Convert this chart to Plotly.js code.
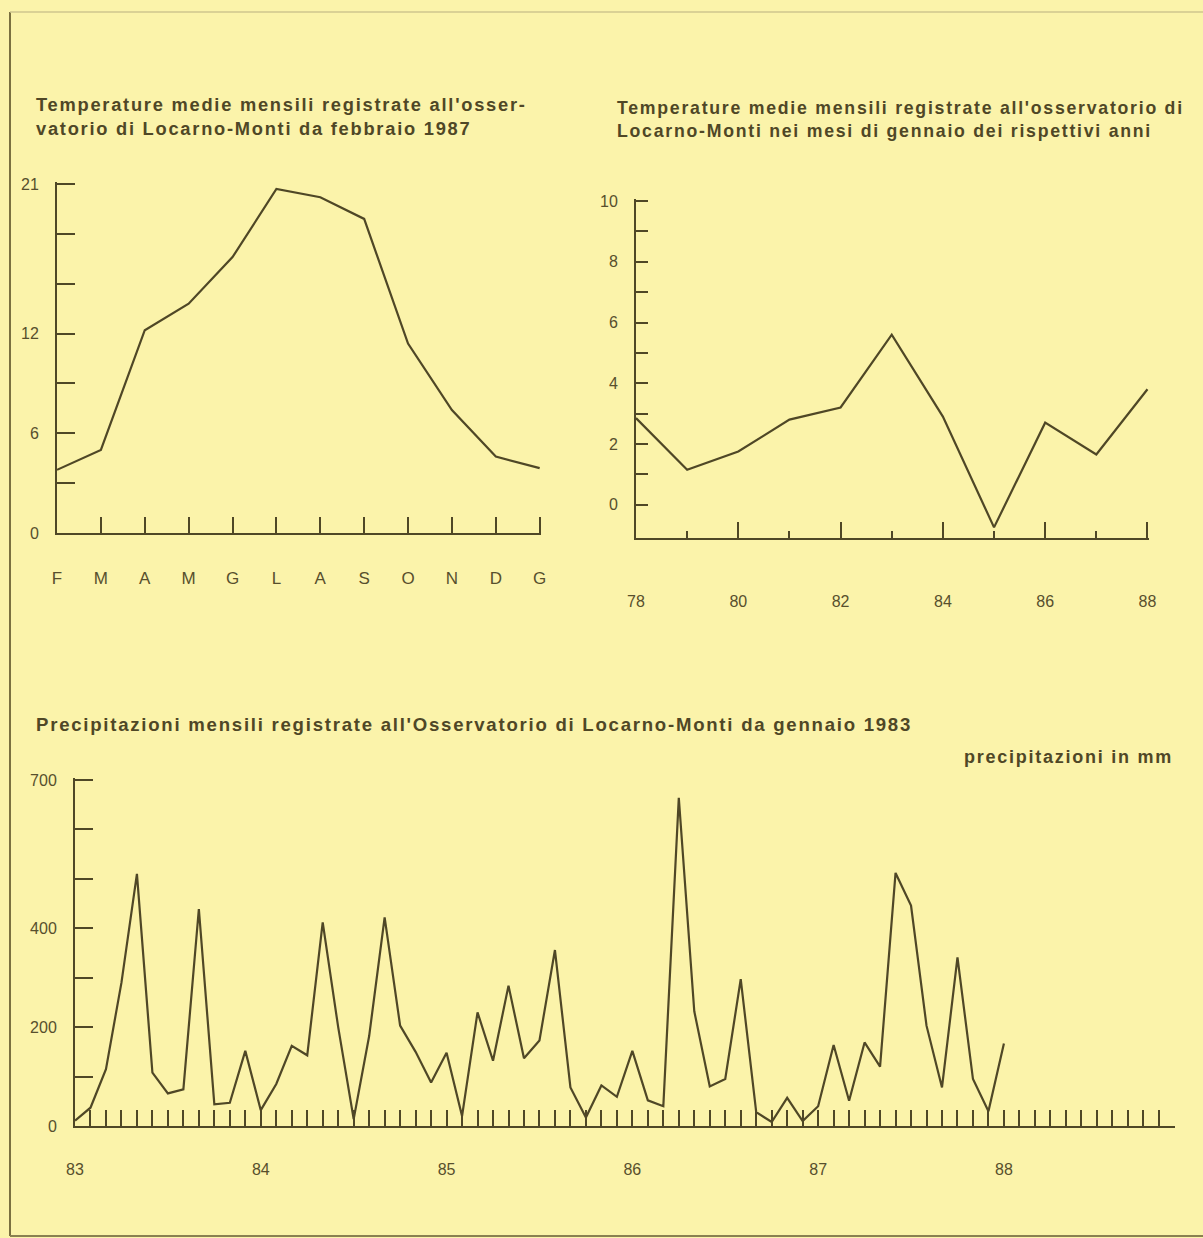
<!DOCTYPE html>
<html>
<head>
<meta charset="utf-8">
<script src="https://cdn.plot.ly/plotly-3.0.1.min.js"></script>
<style>
  html, body { margin: 0; padding: 0; background: #fbf3aa; }
  #chart { width: 1203px; height: 1238px; }
  .annotation-text { letter-spacing: 1.75px; }
</style>
</head>
<body>
<div id="chart"></div>
<script>
// ---- Data ----
// Chart 1: monthly mean temperatures from February 1987
const monthLabels = ['F', 'M', 'A', 'M', 'G', 'L', 'A', 'S', 'O', 'N', 'D', 'G'];
const monthlyTemps = [3.8, 5.0, 12.2, 13.8, 16.6, 20.7, 20.2, 18.9, 11.4, 7.4, 4.6, 3.9];
const tempTickVals = [0, 3, 6, 9, 12, 15, 18, 21];
const tempTickText = ['0', '', '6', '', '12', '', '', '21'];

// Chart 2: January mean temperatures, 1978-1988
const janYears = [78, 79, 80, 81, 82, 83, 84, 85, 86, 87, 88];
const janTemps = [2.85, 1.15, 1.75, 2.8, 3.2, 5.6, 2.9, -0.75, 2.7, 1.65, 3.8];
const janYearLabels = ['78', '80', '82', '84', '86', '88'];
const janYTickText = ['0', '', '2', '', '4', '', '6', '', '8', '', '10'];

// Chart 3: monthly precipitation (mm) from January 1983 to January 1988
const precipYearLabels = ['83', '84', '85', '86', '87', '88'];
const precip1983 = [11, 37, 115, 290, 510, 108, 66, 74, 439, 44, 47, 152];
const precip1984 = [32, 85, 162, 143, 412, 200, 14, 182, 422, 203, 150, 88];
const precip1985 = [148, 20, 230, 132, 284, 137, 173, 356, 78, 17, 82, 59];
const precip1986 = [152, 52, 40, 664, 232, 80, 95, 297, 28, 8, 57, 10];
const precip1987 = [40, 164, 51, 169, 120, 512, 446, 203, 78, 341, 95, 30];
const precip1988 = [167];
const precipTickText = ['0', '', '200', '', '400', '', '', '700'];

// ---- Build ----
const ink = '#4f4726';
const labelInk = '#574f2d';
const W = 1203, H = 1238;
const px = v => v / W;
const py = v => 1 - v / H;

const precip = [].concat(precip1983, precip1984, precip1985, precip1986, precip1987, precip1988);
const precipMonths = precip.map((_, i) => i);
const monthTickVals = [];
const monthTickText = [];
for (let m = 0; m <= 71; m++) {
  monthTickVals.push(m);
  monthTickText.push(m % 12 === 0 ? precipYearLabels[m / 12] : '');
}
const precipYTicks = [0, 100, 200, 300, 400, 500, 600, 700];

const lineStyle = { color: ink, width: 2.2 };

const traces = [
  { x: monthLabels.map((_, i) => i), y: monthlyTemps, xaxis: 'x', yaxis: 'y',
    type: 'scatter', mode: 'lines', line: lineStyle, hoverinfo: 'skip' },
  { x: janYears, y: janTemps, xaxis: 'x2', yaxis: 'y2',
    type: 'scatter', mode: 'lines', line: lineStyle, hoverinfo: 'skip' },
  { x: precipMonths, y: precip, xaxis: 'x3', yaxis: 'y3',
    type: 'scatter', mode: 'lines', line: lineStyle, hoverinfo: 'skip' }
];

const fontFam = '"Liberation Sans", Arial, Helvetica, sans-serif';
const tickFont = { family: fontFam, size: 16, color: labelInk };
const baseAxis = {
  showline: true, linecolor: ink, linewidth: 2,
  ticks: 'inside', tickcolor: ink, tickwidth: 2,
  showgrid: false, zeroline: false, fixedrange: true,
  tickfont: tickFont
};

const layout = {
  width: W, height: H,
  margin: { l: 0, r: 0, t: 0, b: 0 },
  paper_bgcolor: '#fbf3aa',
  plot_bgcolor: 'rgba(0,0,0,0)',
  showlegend: false,
  font: { family: fontFam, color: ink },
  xaxis: Object.assign({}, baseAxis, {
    domain: [px(57), px(541)], range: [0, 11.03], anchor: 'y',
    tickmode: 'array', tickvals: monthLabels.map((_, i) => i), ticktext: monthLabels,
    ticklen: 16, ticklabelstandoff: 29, tickfont: { family: fontFam, size: 17, color: labelInk }
  }),
  yaxis: Object.assign({}, baseAxis, {
    domain: [py(533), py(182)], range: [0, 21.12], anchor: 'x',
    tickmode: 'array', tickvals: tempTickVals, ticktext: tempTickText,
    ticklen: 18, ticklabelstandoff: 13
  }),
  xaxis2: Object.assign({}, baseAxis, {
    domain: [px(636), px(1149)], range: [78, 88.03], anchor: 'y2',
    tickmode: 'array', tickvals: [78, 80, 82, 84, 86, 88], ticktext: janYearLabels,
    ticklen: 16, ticklabelstandoff: 48,
    minor: { tickmode: 'linear', tick0: 78, dtick: 1, ticks: 'inside', ticklen: 7, tickwidth: 2, tickcolor: ink, showgrid: false }
  }),
  yaxis2: Object.assign({}, baseAxis, {
    domain: [py(538), py(199)], range: [-1.1, 10.07], anchor: 'x2',
    tickmode: 'array', tickvals: [0, 1, 2, 3, 4, 5, 6, 7, 8, 9, 10], ticktext: janYTickText,
    ticklen: 12, ticklabelstandoff: 13
  }),
  xaxis3: Object.assign({}, baseAxis, {
    domain: [px(75), px(1175)], range: [0, 71.05], anchor: 'y3',
    tickmode: 'array', tickvals: monthTickVals, ticktext: monthTickText,
    ticklen: 16, ticklabelstandoff: 28
  }),
  yaxis3: Object.assign({}, baseAxis, {
    domain: [py(1126), py(778)], range: [0, 704], anchor: 'x3',
    tickmode: 'array', tickvals: precipYTicks, ticktext: precipTickText,
    ticklen: 18, ticklabelstandoff: 13
  }),
  yaxis4: Object.assign({}, baseAxis, {
    domain: [py(1126), py(778)], range: [0, 704], anchor: 'x3', overlaying: 'y3', side: 'right',
    tickmode: 'array', tickvals: precipYTicks, showticklabels: false, ticklen: 18
  }),
  annotations: [
    { xref: 'paper', yref: 'paper', x: px(34), y: py(117), xanchor: 'left', yanchor: 'middle', align: 'left',
      showarrow: false, font: { family: fontFam, size: 18.3, weight: 700, color: ink },
      text: "Temperature medie mensili registrate all'osser-<br>vatorio di Locarno-Monti da febbraio 1987" },
    { xref: 'paper', yref: 'paper', x: px(615), y: py(119), xanchor: 'left', yanchor: 'middle', align: 'left',
      showarrow: false, font: { family: fontFam, size: 17.7, weight: 700, color: ink },
      text: "Temperature medie mensili registrate all'osservatorio di<br>Locarno-Monti nei mesi di gennaio dei rispettivi anni" },
    { xref: 'paper', yref: 'paper', x: px(34), y: py(724), xanchor: 'left', yanchor: 'middle', align: 'left',
      showarrow: false, font: { family: fontFam, size: 18.6, weight: 700, color: ink },
      text: "Precipitazioni mensili registrate all'Osservatorio di Locarno-Monti da gennaio 1983" },
    { xref: 'paper', yref: 'paper', x: px(962), y: py(757), xanchor: 'left', yanchor: 'middle', align: 'left',
      showarrow: false, font: { family: fontFam, size: 18, weight: 700, color: ink },
      text: 'precipitazioni in mm' }
  ],
  shapes: [
    { type: 'line', xref: 'paper', yref: 'paper', x0: px(10), x1: px(10), y0: py(12), y1: py(1236),
      line: { color: '#7a7040', width: 2 } },
    { type: 'line', xref: 'paper', yref: 'paper', x0: px(10), x1: 1, y0: py(12), y1: py(12),
      line: { color: '#cfc68e', width: 1.5 } },
    { type: 'line', xref: 'paper', yref: 'paper', x0: px(10), x1: 1, y0: py(1236), y1: py(1236),
      line: { color: '#8a8050', width: 2 } }
  ]
};

Plotly.newPlot('chart', traces, layout, { staticPlot: true, displayModeBar: false });
</script>
</body>
</html>
